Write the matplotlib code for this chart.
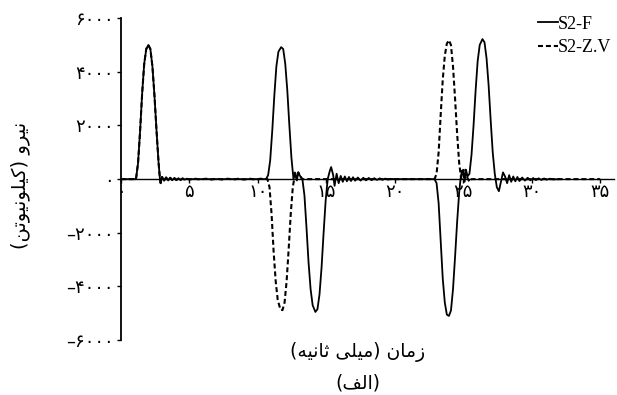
#plots the force history of the two S2 models

import matplotlib.pyplot as plt
import numpy as np

# time (ms) and force (kN) for S2-F
t_f = [0, 1.1, 1.25, 1.4, 1.55, 1.7, 1.85, 2.0, 2.15, 2.3, 2.45, 2.6, 2.75, 2.85,
       2.9, 3.0, 3.15, 3.3, 3.45, 3.6, 3.75, 3.9, 4.05, 4.2, 4.35, 4.5, 4.65, 4.8, 5.0, 5.5, 10.6,
       10.75, 10.9, 11.05, 11.2, 11.35, 11.5, 11.7, 11.85, 12.0, 12.15, 12.3, 12.45, 12.6,
       12.7, 12.85, 12.95, 13.1, 13.25,
       13.4, 13.55, 13.7, 13.85, 14.0, 14.2, 14.35, 14.5, 14.65, 14.8, 14.95, 15.1,
       15.25, 15.35, 15.5, 15.6, 15.75, 15.9, 16.05, 16.2, 16.35, 16.5, 16.65, 16.8, 16.95,
       17.1, 17.3, 17.5, 17.7, 17.9, 18.1, 18.3, 18.5, 18.7, 18.9, 19.1, 19.3, 19.5, 19.7,
       20.0, 22.9,
       23.05, 23.2, 23.35, 23.5, 23.65, 23.8, 23.95, 24.1, 24.25, 24.4, 24.55, 24.7, 24.8,
       24.9, 25.0, 25.1, 25.2, 25.3, 25.45,
       25.6, 25.75, 25.9, 26.05, 26.2, 26.4, 26.55, 26.7, 26.85, 27.0, 27.15, 27.3, 27.45,
       27.6, 27.75, 27.9, 28.05, 28.2, 28.35, 28.5, 28.65, 28.8, 28.95, 29.1, 29.3, 29.5,
       29.7, 29.9, 30.1, 30.3, 30.5, 30.7, 30.9, 31.1, 31.3, 31.6, 32.0]
f_f = [0, 0, 600, 1800, 3200, 4300, 4850, 5000, 4850, 4200, 3100, 1800, 600, 0,
       -150, 80, -60, 60, -50, 50, -40, 40, -35, 35, -30, 25, -20, 15, 0, 0, 0,
       150, 700, 1800, 3100, 4200, 4750, 4920, 4850, 4300, 3300, 2000, 800, 0,
       250, -50, 250, 100, 0,
       -600, -1800, -3100, -4100, -4700, -4950, -4850, -4300, -3300, -2000, -800, 0,
       300, 450, 150, -250, 200, -150, 120, -100, 100, -80, 80, -70, 70,
       -60, 60, -55, 50, -45, 45, -40, 35, -30, 30, -25, 20, -15, 10,
       0, 0,
       -150, -900, -2300, -3700, -4600, -5050, -5100, -4900, -4100, -2900, -1600, -500, 0,
       300, 350, -100, 350, 100, 200,
       900, 2000, 3300, 4400, 5000, 5220, 5100, 4500, 3500, 2200, 1000, 200, -300,
       -450, -100, 250, 100, -150, 150, -100, 100, -80, 80, -70, 60, -55,
       50, -45, 40, -35, 30, -30, 25, -20, 15, -10, 0]

# time (ms) and force (kN) for S2-Z.V
t_z = [0, 1.1, 1.25, 1.4, 1.55, 1.7, 1.85, 2.0, 2.15, 2.3, 2.45, 2.6, 2.75, 2.85,
       2.9, 3.0, 3.15, 3.3, 3.45, 3.6, 3.75, 3.9, 4.05, 4.2, 4.35, 4.5, 4.65, 4.8, 5.0,
       5.4, 5.8, 6.2, 6.6, 7.0, 7.4, 7.8, 8.2, 8.6, 9.0, 9.4, 9.8, 10.2, 10.7,
       10.85, 11.0, 11.15, 11.3, 11.45, 11.65, 11.8, 11.95, 12.1, 12.25, 12.4, 12.55, 12.65,
       12.75, 12.85, 12.95, 13.1, 13.25, 13.5, 22.9,
       23.05, 23.2, 23.35, 23.5, 23.65, 23.8, 23.95, 24.1, 24.25, 24.4, 24.55, 24.7, 24.85,
       24.95, 25.05, 25.15, 25.3, 25.45, 25.6, 26.0, 35]
f_z = [0, 0, 600, 1800, 3200, 4300, 4850, 5000, 4850, 4200, 3100, 1800, 600, 0,
       -150, 80, -60, 60, -50, 50, -40, 40, -35, 35, -30, 25, -20, 15, -15,
       15, -15, 15, -15, 15, -15, 15, -15, 15, -15, 15, -15, 15, 0,
       -300, -1300, -2700, -3800, -4500, -4870, -4880, -4600, -3800, -2600, -1300, -300, 0,
       250, 0, 250, 100, 0, 0, 0,
       200, 1000, 2400, 3700, 4600, 5050, 5180, 5000, 4200, 3000, 1700, 600, 0,
       350, 0, 350, 50, -100, 0, 0, 0]

x_ticks = [0, 5, 10, 15, 20, 25, 30, 35]
y_ticks = [-6000, -4000, -2000, 0, 2000, 4000, 6000]

x_label = "زمان (میلی ثانیه)"
y_label = "نیرو (کیلونیوتن)"
caption = "(الف)"

# matplotlib does not join arabic letters, so pick the presentation forms here
# (isolated, final, initial, medial)
FORMS = {
    'ا': ('\uFE8D', '\uFE8E', None, None),
    'ت': ('\uFE95', '\uFE96', '\uFE97', '\uFE98'),
    'ث': ('\uFE99', '\uFE9A', '\uFE9B', '\uFE9C'),
    'ر': ('\uFEAD', '\uFEAE', None, None),
    'ز': ('\uFEAF', '\uFEB0', None, None),
    'ف': ('\uFED1', '\uFED2', '\uFED3', '\uFED4'),
    'ل': ('\uFEDD', '\uFEDE', '\uFEDF', '\uFEE0'),
    'م': ('\uFEE1', '\uFEE2', '\uFEE3', '\uFEE4'),
    'ن': ('\uFEE5', '\uFEE6', '\uFEE7', '\uFEE8'),
    'ه': ('\uFEE9', '\uFEEA', '\uFEEB', '\uFEEC'),
    'و': ('\uFEED', '\uFEEE', None, None),
    'ک': ('\uFB8E', '\uFB8F', '\uFB90', '\uFB91'),
    'ی': ('\uFBFC', '\uFBFD', '\uFBFE', '\uFBFF'),
}
MIRROR = {'(': ')', ')': '('}


def fa(s):
    out = []
    for i, c in enumerate(s):
        if c not in FORMS:
            out.append(MIRROR.get(c, c))
            continue
        prev = s[i - 1] if i > 0 else ''
        nxt = s[i + 1] if i + 1 < len(s) else ''
        join_prev = prev in FORMS and FORMS[prev][2] is not None
        join_next = nxt in FORMS and FORMS[c][2] is not None
        iso, fin, ini, med = FORMS[c]
        if join_prev and join_next:
            out.append(med)
        elif join_prev:
            out.append(fin)
        elif join_next:
            out.append(ini)
        else:
            out.append(iso)
    return ''.join(reversed(out))


def fa_num(n):
    digits = '۰۱۲۳۴۵۶۷۸۹'
    s = ''.join(digits[int(d)] for d in str(abs(n)))
    return ('\u2013' if n < 0 else '') + s


plt.rcParams['font.family'] = ['DejaVu Sans']

fig = plt.figure(figsize=(6.17, 3.95), dpi=100)
ax = fig.add_axes([0.196, 0.139, 0.799, 0.815])

ax.plot(t_f, f_f, color='black', lw=1.3, label='S2-F')
ax.plot(t_z, f_z, color='black', lw=1.5, ls=(0, (2.4, 1.4)), label='S2-Z.V')

ax.set_xlim(0, 36)
ax.set_ylim(-6000, 6000)
ax.spines['top'].set_visible(False)
ax.spines['right'].set_visible(False)
ax.spines['bottom'].set_position(('data', 0))
ax.spines['left'].set_linewidth(1.3)
ax.spines['bottom'].set_linewidth(1.0)

ax.set_xticks(x_ticks)
ax.set_xticklabels([fa_num(v) for v in x_ticks], fontsize=13)
ax.set_yticks(y_ticks)
ax.set_yticklabels([fa_num(v) for v in y_ticks], fontsize=13)
ax.tick_params(axis='both', length=3, width=1, pad=2)
ax.tick_params(axis='x', pad=0)

fig.text(0.033, 0.53, fa(y_label), rotation=90, ha='center', va='center', fontsize=14)
fig.text(0.58, 0.108, fa(x_label), ha='center', va='center', fontsize=13.5)
fig.text(0.58, 0.03, fa(caption), ha='center', va='center', fontsize=13.5)

leg = ax.legend(loc='upper right', bbox_to_anchor=(1.01, 1.03), frameon=False,
                handlelength=1.1, handletextpad=0.0, labelspacing=0.35,
                borderaxespad=0.0,
                prop={'family': 'Liberation Serif', 'size': 13})

fig.savefig('out.png', dpi=100)
